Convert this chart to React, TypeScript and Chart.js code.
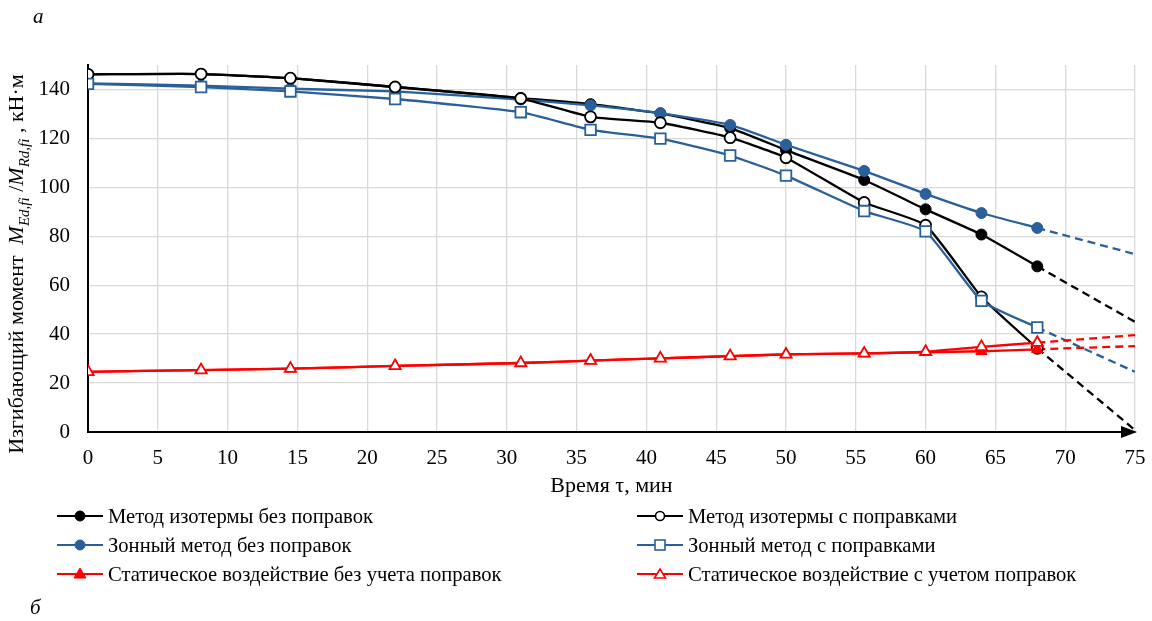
import React, { useEffect, useRef } from 'react';
import { Chart, registerables } from 'chart.js';
Chart.register(...registerables);

// ---- Data ----
const timeMin = [0, 8.1, 14.5, 22, 31, 36, 41, 46, 50, 55.6, 60, 64, 68];
const extTime = [68, 75];

const isoNoCorr = [146.2, 146.3, 144.6, 141, 136.5, 134, 130.2, 124.2, 115.2, 103, 91, 80.7, 67.7];
const isoCorr = [146.2, 146.3, 144.6, 141, 136.3, 128.8, 126.4, 120.3, 112.1, 93.8, 84.5, 55.2, 34.2];
const zoneNoCorr = [142.5, 141.6, 140.3, 139.2, 135.9, 133.5, 130.3, 125.5, 117.4, 106.7, 97.3, 89.5, 83.4];
const zoneCorr = [142.3, 141, 139.2, 136.1, 130.7, 123.5, 119.9, 113, 104.8, 90.3, 82, 53.6, 42.7];
const staticNoCorr = [24.6, 25.3, 25.9, 27, 28.2, 29.2, 30.1, 31, 31.7, 32.1, 32.6, 33, 33.8];
const staticCorr = [24.6, 25.3, 25.9, 27, 28.2, 29.2, 30.1, 31, 31.7, 32.1, 32.8, 34.8, 36.5];

const isoNoCorrExt = [67.7, 45];
const isoCorrExt = [34.2, 0.8];
const zoneNoCorrExt = [83.4, 72.7];
const zoneCorrExt = [42.7, 24.6];
const staticNoCorrExt = [33.8, 35.1];
const staticCorrExt = [36.5, 39.6];

const xTicks = [0, 5, 10, 15, 20, 25, 30, 35, 40, 45, 50, 55, 60, 65, 70, 75];
const yTicks = [0, 20, 40, 60, 80, 100, 120, 140];

const labels = [
  'Метод изотермы без поправок',
  'Метод изотермы с поправками',
  'Зонный метод без поправок',
  'Зонный метод с поправками',
  'Статическое воздействие без учета поправок',
  'Статическое воздействие с учетом поправок',
];

const BLACK = '#000000';
const BLUE = '#2a6099';
const RED = '#ff0000';
const FONT = "'Liberation Serif', 'Times New Roman', serif";

const pts = (ys: number[]) => ys.map((y, i) => ({ x: timeMin[i], y }));
const ext = (ys: number[]) => ys.map((y, i) => ({ x: extTime[i], y }));

const arrowPlugin = {
  id: 'axisArrow',
  afterDraw(chart: any) {
    const { ctx, chartArea } = chart;
    const { right, bottom } = chartArea;
    ctx.save();
    ctx.fillStyle = '#000';
    ctx.beginPath();
    ctx.moveTo(right + 2, bottom);
    ctx.lineTo(right - 14, bottom - 6);
    ctx.lineTo(right - 14, bottom + 6);
    ctx.closePath();
    ctx.fill();
    ctx.restore();
  },
};

function mainDs(label: string, data: number[], color: string, style: string, filled: boolean, radius: number) {
  return {
    label,
    data: pts(data),
    borderColor: color,
    borderWidth: 2.3,
    pointStyle: style,
    pointRadius: radius,
    pointBackgroundColor: filled ? color : '#ffffff',
    pointBorderColor: color,
    pointBorderWidth: filled ? 1 : 1.8,
    tension: 0.15,
    fill: false,
  };
}

function extDs(data: number[], color: string) {
  return {
    label: '',
    data: ext(data),
    borderColor: color,
    borderWidth: 2.3,
    borderDash: [8, 5],
    pointRadius: 0,
    tension: 0,
    fill: false,
  };
}

function LegendIcon({ color, kind }: { color: string; kind: string }) {
  let marker: any = null;
  if (kind === 'circleFilled') marker = <circle cx={23} cy={8} r={5} fill={color} stroke={color} />;
  if (kind === 'circleOpen') marker = <circle cx={23} cy={8} r={4.5} fill="#fff" stroke={color} strokeWidth={1.6} />;
  if (kind === 'rectOpen') marker = <rect x={18} y={3} width={10} height={10} fill="#fff" stroke={color} strokeWidth={1.6} />;
  if (kind === 'triFilled') marker = <polygon points="23,2 29,12 17,12" fill={color} stroke={color} />;
  if (kind === 'triOpen') marker = <polygon points="23,3 28.5,12 17.5,12" fill="#fff" stroke={color} strokeWidth={1.6} />;
  return (
    <svg width={46} height={16} style={{ display: 'block' }}>
      <line x1={0} y1={8} x2={46} y2={8} stroke={color} strokeWidth={2} />
      {marker}
    </svg>
  );
}

export default function App() {
  const canvasRef = useRef<HTMLCanvasElement | null>(null);

  useEffect(() => {
    document.body.style.margin = '0';
    const canvas = canvasRef.current;
    if (!canvas) return;
    // Chart.js draws dataset 0 on top, so the topmost series comes first.
    const chart = new Chart(canvas, {
      type: 'line',
      data: {
        datasets: [
          mainDs(labels[5], staticCorr, RED, 'triangle', false, 6.5),
          mainDs(labels[4], staticNoCorr, RED, 'triangle', true, 6.5),
          mainDs(labels[3], zoneCorr, BLUE, 'rect', false, 7.5),
          mainDs(labels[1], isoCorr, BLACK, 'circle', false, 5.5),
          mainDs(labels[2], zoneNoCorr, BLUE, 'circle', true, 5.5),
          mainDs(labels[0], isoNoCorr, BLACK, 'circle', true, 5.5),
          extDs(staticCorrExt, RED),
          extDs(staticNoCorrExt, RED),
          extDs(zoneCorrExt, BLUE),
          extDs(isoCorrExt, BLACK),
          extDs(zoneNoCorrExt, BLUE),
          extDs(isoNoCorrExt, BLACK),
        ] as any,
      },
      options: {
        responsive: false,
        animation: false,
        devicePixelRatio: 1,
        layout: { padding: { left: 0, top: 65, right: 17, bottom: 123 } },
        plugins: { legend: { display: false }, tooltip: { enabled: false } },
        scales: {
          x: {
            type: 'linear',
            min: 0,
            max: 75,
            afterBuildTicks: (scale: any) => {
              scale.ticks = xTicks.map((v) => ({ value: v }));
            },
            afterFit: (scale: any) => {
              scale.height = 66;
              scale.paddingLeft = 0;
              scale.paddingRight = 0;
            },
            grid: { color: '#d9d9d9', lineWidth: 1.3, drawTicks: false },
            border: { color: '#000', width: 2 },
            ticks: { color: '#000', font: { family: FONT, size: 21 }, padding: 14, maxRotation: 0 },
            title: {
              display: true,
              text: 'Время τ, мин',
              color: '#000',
              font: { family: FONT, size: 22 },
              padding: { top: 0, bottom: -1 },
            },
          },
          y: {
            type: 'linear',
            min: 0,
            max: 150,
            afterBuildTicks: (scale: any) => {
              scale.ticks = yTicks.map((v) => ({ value: v }));
            },
            afterFit: (scale: any) => {
              scale.width = 88;
              scale.paddingTop = 0;
              scale.paddingBottom = 0;
            },
            grid: { color: '#d9d9d9', lineWidth: 1.3, drawTicks: false },
            border: { color: '#000', width: 2 },
            ticks: { color: '#000', font: { family: FONT, size: 21 }, padding: 18 },
          },
        },
      } as any,
      plugins: [arrowPlugin],
    });
    return () => chart.destroy();
  }, []);

  const textStyle: React.CSSProperties = {
    position: 'absolute',
    fontFamily: FONT,
    fontSize: 21,
    color: '#000',
    whiteSpace: 'nowrap',
    lineHeight: '21px',
  };

  const legendRow = (left: number, top: number, color: string, kind: string, text: string) => (
    <div style={{ position: 'absolute', left, top: top - 11, display: 'flex', alignItems: 'center', height: 22 }}>
      <LegendIcon color={color} kind={kind} />
      <span style={{ fontFamily: FONT, fontSize: 20.6, color: '#000', marginLeft: 5, whiteSpace: 'nowrap' }}>{text}</span>
    </div>
  );

  return (
    <div style={{ position: 'relative', width: 1152, height: 621, background: '#fff', overflow: 'hidden' }}>
      <canvas ref={canvasRef} width={1152} height={621} style={{ position: 'absolute', left: 0, top: 0, width: 1152, height: 621 }} />
      <div style={{ ...textStyle, left: 33, top: 6, fontStyle: 'italic' }}>а</div>
      <div style={{ ...textStyle, left: 30, top: 597, fontStyle: 'italic' }}>б</div>
      <div
        style={{
          ...textStyle,
          fontSize: 22,
          lineHeight: '22px',
          left: 20,
          top: 264,
          transform: 'translate(-50%, -50%) rotate(-90deg)',
        }}
      >
        Изгибающий момент&nbsp;&nbsp;<i>M</i>
        <sub style={{ fontSize: 15, fontStyle: 'italic' }}>Ed,fi</sub>&nbsp;/<i>M</i>
        <sub style={{ fontSize: 15, fontStyle: 'italic' }}>Rd,fi</sub>&nbsp;, кН·м
      </div>
      {legendRow(57, 516, BLACK, 'circleFilled', labels[0])}
      {legendRow(57, 545, BLUE, 'circleFilled', labels[2])}
      {legendRow(57, 574, RED, 'triFilled', labels[4])}
      {legendRow(637, 516, BLACK, 'circleOpen', labels[1])}
      {legendRow(637, 545, BLUE, 'rectOpen', labels[3])}
      {legendRow(637, 574, RED, 'triOpen', labels[5])}
    </div>
  );
}
